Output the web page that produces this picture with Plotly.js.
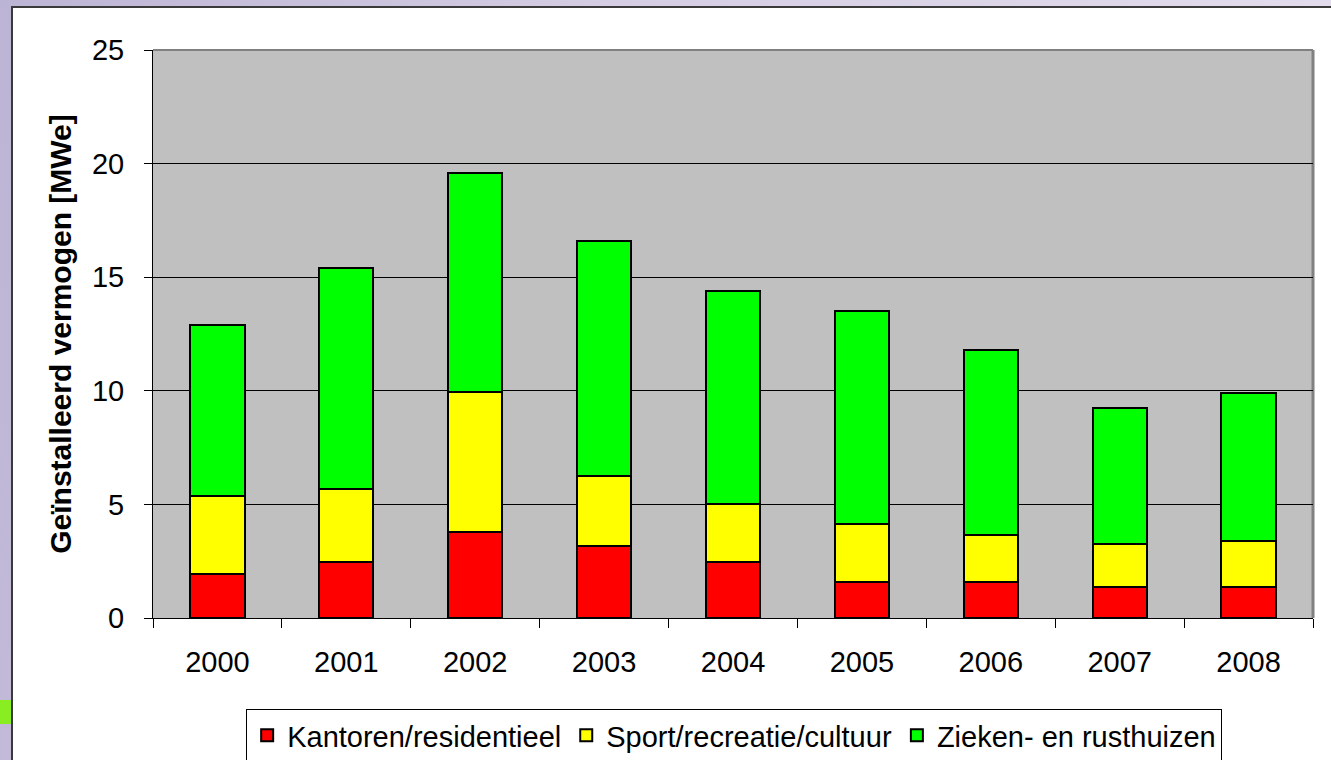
<!DOCTYPE html>
<html>
<head>
<meta charset="utf-8">
<script src="https://cdn.plot.ly/plotly-3.0.1.min.js"></script>
<style>
  html, body { margin: 0; padding: 0; width: 1331px; height: 760px; overflow: hidden;
    background: linear-gradient(100deg, #bcb4d4 0%, #d6cfe4 45%, #e4deee 100%); }
  #frame { position: absolute; left: 11px; top: 6px; width: 1320px; height: 754px;
    background: #ffffff; border-left: 2px solid #3a3a3a; border-top: 2px solid #3a3a3a; box-sizing: border-box; }
  #strip { position: absolute; left: 0; top: 700px; width: 11px; height: 24px; background: #88ee22; }
  #chart { position: absolute; left: 13px; top: 8px; width: 1318px; height: 752px; }
</style>
</head>
<body>
<div id="frame"></div>
<div id="strip"></div>
<div id="chart"></div>
<script>
const years = ['2000', '2001', '2002', '2003', '2004', '2005', '2006', '2007', '2008'];
const kantoren = [1.95, 2.45, 3.8, 3.15, 2.45, 1.6, 1.6, 1.35, 1.35];
const sport = [3.4, 3.25, 6.15, 3.1, 2.55, 2.55, 2.05, 1.9, 2.05];
const zieken = [7.55, 9.7, 9.65, 10.35, 9.4, 9.35, 8.15, 6.0, 6.5];
const seriesNames = ['Kantoren/residentieel', 'Sport/recreatie/cultuur', 'Zieken- en rusthuizen'];
const seriesColors = ['#ff0000', '#ffff00', '#00ff00'];
const yTitle = 'Geïnstalleerd vermogen [MWe]';

const font = 'Arial, "Liberation Sans", sans-serif';
const traces = [kantoren, sport, zieken].map((vals, i) => ({
  type: 'bar',
  x: years,
  y: vals,
  name: seriesNames[i],
  marker: { color: seriesColors[i], line: { color: '#000000', width: 2 } },
  hoverinfo: 'x+y+name'
}));

const layout = {
  width: 1318,
  height: 752,
  barmode: 'stack',
  bargap: 0.58,
  paper_bgcolor: 'rgba(0,0,0,0)',
  plot_bgcolor: '#c0c0c0',
  margin: { l: 140, r: 18, t: 42, b: 142, autoexpand: false },
  font: { family: font, color: '#000000', size: 29 },
  showlegend: true,
  legend: {
    orientation: 'h',
    x: 0.501, xanchor: 'center',
    y: -0.16, yanchor: 'top',
    bgcolor: '#ffffff',
    bordercolor: '#000000',
    borderwidth: 1,
    font: { family: font, size: 29, color: '#000000' },
    traceorder: 'normal'
  },
  xaxis: {
    type: 'category',
    tickson: 'boundaries',
    ticks: 'outside',
    ticklen: 9,
    tickwidth: 1,
    tickcolor: '#000000',
    showline: true,
    linecolor: '#000000',
    linewidth: 1,
    showgrid: false,
    ticklabelstandoff: 18,
    tickfont: { family: font, size: 29, color: '#000000' }
  },
  yaxis: {
    range: [0, 25],
    dtick: 5,
    tick0: 0,
    ticks: 'outside',
    ticklen: 8,
    tickwidth: 1,
    tickcolor: '#000000',
    showline: true,
    linecolor: '#000000',
    linewidth: 1,
    showgrid: true,
    gridcolor: '#000000',
    gridwidth: 1,
    zeroline: false,
    ticklabelstandoff: 14,
    tickfont: { family: font, size: 29, color: '#000000' },
    title: { text: yTitle, font: { family: font, size: 30, color: '#000000', weight: 'bold' }, standoff: 11 }
  },
  shapes: [
    { type: 'line', xref: 'paper', yref: 'paper', x0: 0, x1: 1, y0: 1, y1: 1, line: { color: '#808080', width: 2 }, layer: 'below' },
    { type: 'line', xref: 'paper', yref: 'paper', x0: 1, x1: 1, y0: 0, y1: 1, line: { color: '#808080', width: 3 }, layer: 'below' }
  ]
};

Plotly.newPlot('chart', traces, layout, { displayModeBar: false, staticPlot: true });
</script>
</body>
</html>
